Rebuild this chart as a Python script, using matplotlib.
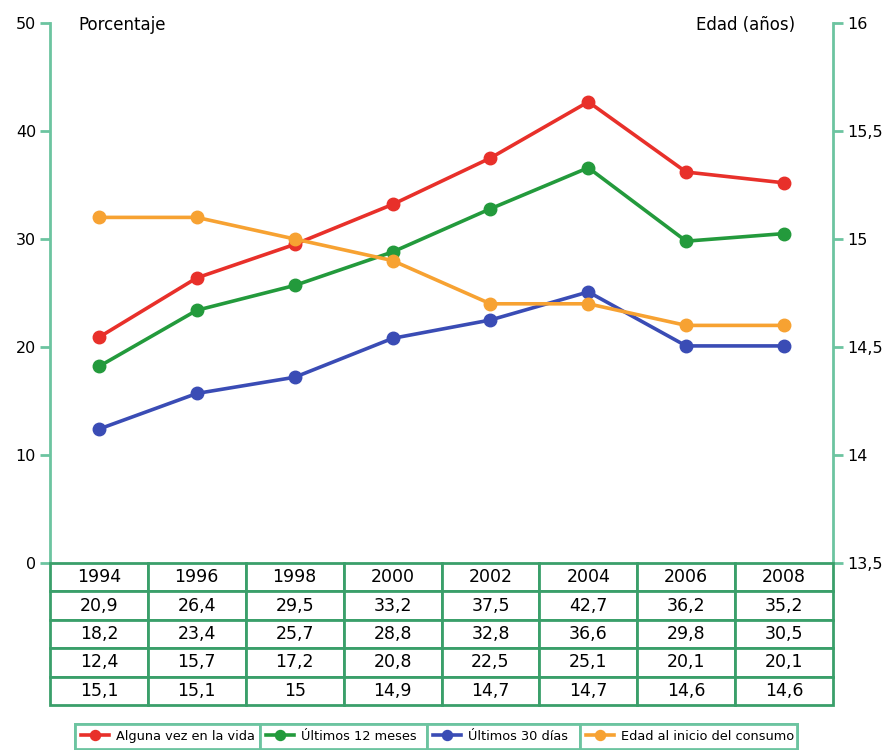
import numpy as np
import matplotlib
matplotlib.use('Agg')
import matplotlib.pyplot as plt
from matplotlib.ticker import FuncFormatter

years = ['1994', '1996', '1998', '2000', '2002', '2004', '2006', '2008']
alguna_vez = [20.9, 26.4, 29.5, 33.2, 37.5, 42.7, 36.2, 35.2]
ultimos_12 = [18.2, 23.4, 25.7, 28.8, 32.8, 36.6, 29.8, 30.5]
ultimos_30 = [12.4, 15.7, 17.2, 20.8, 22.5, 25.1, 20.1, 20.1]
edad_inicio = [15.1, 15.1, 15.0, 14.9, 14.7, 14.7, 14.6, 14.6]

labels = ['Alguna vez en la vida', 'Últimos 12 meses', 'Últimos 30 días',
          'Edad al inicio del consumo']
colors = ['#e8302a', '#239a3c', '#3a4cb5', '#f7a232']

spine_green = '#6cc4a0'
table_green = '#3a9f6a'

plt.rcParams['font.family'] = ['DejaVu Sans']

W, H = 885, 750
fig = plt.figure(figsize=(W / 100, H / 100), dpi=100)

x0, x1 = 50, 833
ytop, ybot = 23, 563
ax = fig.add_axes([x0 / W, 1 - ybot / H, (x1 - x0) / W, (ybot - ytop) / H])
ax2 = ax.twinx()

x = np.arange(len(years))
lw, ms = 2.6, 9
l1, = ax.plot(x, alguna_vez, color=colors[0], lw=lw, marker='o', ms=ms)
l2, = ax.plot(x, ultimos_12, color=colors[1], lw=lw, marker='o', ms=ms)
l3, = ax.plot(x, ultimos_30, color=colors[2], lw=lw, marker='o', ms=ms)
l4, = ax2.plot(x, edad_inicio, color=colors[3], lw=lw, marker='o', ms=ms)

ax.set_xlim(-0.5, len(years) - 0.5)
ax.set_ylim(0, 50)
ax.set_yticks(np.arange(0, 51, 10))
ax2.set_ylim(13.5, 16)
ax2.set_yticks(np.arange(13.5, 16.01, 0.5))
ax2.yaxis.set_major_formatter(FuncFormatter(lambda v, p: ('%g' % v).replace('.', ',')))
ax.set_xticks([])

for a in (ax, ax2):
    for s in ('top', 'bottom'):
        a.spines[s].set_visible(False)
    a.tick_params(axis='y', length=7, width=2, color=spine_green,
                  labelsize=11.5, pad=3)
ax.spines['left'].set_color(spine_green)
ax.spines['left'].set_linewidth(2)
ax.spines['right'].set_visible(False)
ax2.spines['left'].set_visible(False)
ax2.spines['right'].set_color(spine_green)
ax2.spines['right'].set_linewidth(2)

ax.text(0.036, 0.997, 'Porcentaje', transform=ax.transAxes, fontsize=12,
        ha='left', va='center')
ax.text(0.952, 0.997, 'Edad (años)', transform=ax.transAxes, fontsize=12,
        ha='right', va='center')

# data table under the plot
tb_top, tb_bot = 563, 705
tax = fig.add_axes([x0 / W, 1 - tb_bot / H, (x1 - x0) / W, (tb_bot - tb_top) / H])
tax.axis('off')
cells = [years] + [[('%g' % v).replace('.', ',') for v in s]
                   for s in (alguna_vez, ultimos_12, ultimos_30, edad_inicio)]
tbl = tax.table(cellText=cells, cellLoc='center', bbox=[0, 0, 1, 1])
tbl.auto_set_font_size(False)
tbl.set_fontsize(12.5)
for (r, c), cell in tbl.get_celld().items():
    cell.set_edgecolor(table_green)
    cell.set_linewidth(2)

# legend: four boxed cells side by side
edges = [75, 260, 427, 580, 797]
handles = [l1, l2, l3, l4]
for i, h in enumerate(handles):
    leg = fig.legend([h], [labels[i]],
                     bbox_to_anchor=(edges[i] / W, 1.5 / H, (edges[i + 1] - edges[i]) / W, 22 / H),
                     loc='lower left', mode='expand', borderaxespad=0,
                     fontsize=9.3, frameon=True, fancybox=False,
                     handlelength=2.2, handletextpad=0.5, borderpad=0.45,
                     markerscale=0.8)
    fr = leg.get_frame()
    fr.set_edgecolor(spine_green)
    fr.set_linewidth(2)
    fr.set_alpha(1)
    fig.add_artist(leg)

fig.savefig('out.png', dpi=100)
